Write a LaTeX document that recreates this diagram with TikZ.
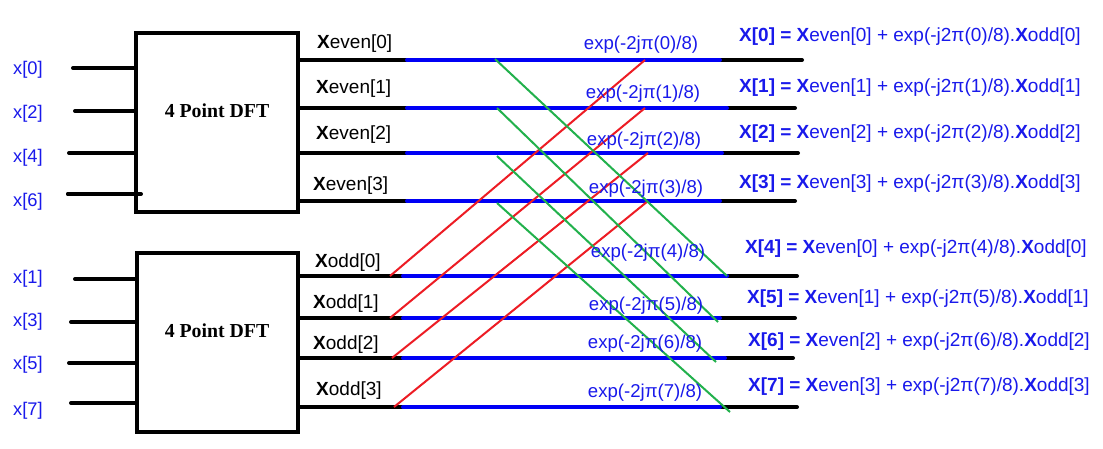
\documentclass[tikz,border=0pt]{standalone}
\usepackage{fontspec}
\setmainfont{Liberation Sans}
\newfontfamily\dftfont{Liberation Serif}
\definecolor{tblue}{RGB}{25,25,235}
\definecolor{lblue}{RGB}{0,0,245}
\definecolor{pred}{RGB}{237,28,36}
\definecolor{pgreen}{RGB}{34,177,76}
\begin{document}
\begin{tikzpicture}[x=1pt,y=-1pt,
  blk/.style={line width=4pt, black, line cap=round},
  bus/.style={line width=4pt, lblue, line cap=round},
  rline/.style={line width=2pt, pred},
  gline/.style={line width=2pt, pgreen},
  dftbox/.style={draw, line width=4pt, inner sep=0pt, minimum width=162pt, minimum height=179pt},
  dfttxt/.style={inner sep=0pt, font=\dftfont\bfseries\fontsize{19.8}{22}\selectfont},
  inlab/.style={anchor=west, inner sep=0pt, text=tblue, font=\fontsize{18.3}{20}\selectfont},
  outlab/.style={anchor=west, inner sep=0pt, text=black, font=\fontsize{19}{21}\selectfont},
  wlab/.style={inner sep=0pt, text=tblue, font=\fontsize{18.6}{21}\selectfont},
  reslab/.style={anchor=west, inner sep=0pt, text=tblue, font=\fontsize{19}{21}\selectfont}]
\useasboundingbox[fill=white] (0,0) rectangle (1103,448);

% boxes
\node[dftbox] (top) at (217,122.5) {};
\node[dftbox, minimum width=161pt] (bot) at (217.5,342.5) {};
\node[dfttxt] (toptxt) at (217,111) {4 Point DFT};
\node[dfttxt] (bottxt) at (217,331) {4 Point DFT};

% input labels
\node[inlab] (x0) at (13,70) {x[0]};
\node[inlab] (x2) at (13,114) {x[2]};
\node[inlab] (x4) at (13,158) {x[4]};
\node[inlab] (x6) at (13,202) {x[6]};
\node[inlab] (x1) at (13,279) {x[1]};
\node[inlab] (x3) at (13,322) {x[3]};
\node[inlab] (x5) at (13,365) {x[5]};
\node[inlab] (x7) at (13,411) {x[7]};

% input lines
\coordinate (i0) at (73,68);
\coordinate (i2) at (75,111);
\coordinate (i4) at (69,153);
\coordinate (i6) at (68,194);
\coordinate (i1) at (75,279);
\coordinate (i3) at (71,322);
\coordinate (i5) at (69,363);
\coordinate (i7) at (71,403);
\foreach \k in {0,2,4,6} {\draw[blk] (i\k) -- (i\k -| top.west);}
\draw[blk] (i6) -- ++(73,0);
\foreach \k in {1,3,5,7} {\draw[blk] (i\k) -- (i\k -| bot.west);}

% output lines (even)
\foreach \k/\y/\xe/\xb in {0/60/802/720, 1/108/795/727, 2/153/798/722, 3/201/795/720} {
  \coordinate (ee\k) at (\xe,\y);
  \coordinate (eb\k) at (407,\y);
  \coordinate (ec\k) at (\xb,\y);
  \draw[blk] (ee\k -| top.east) -- (ee\k);
  \draw[bus] (eb\k) -- (ec\k);
}
% output lines (odd)
\foreach \k/\y/\xe/\xb in {0/276/797/727, 1/318/795/720, 2/358/793/725, 3/407/797/720} {
  \coordinate (oe\k) at (\xe,\y);
  \coordinate (ob\k) at (403,\y);
  \coordinate (oc\k) at (\xb,\y);
  \draw[blk] (oe\k -| bot.east) -- (oe\k);
  \draw[bus] (ob\k) -- (oc\k);
}

% red butterflies: odd k -> even k
\coordinate (rs0) at (390,276); \coordinate (rt0) at (645,60);
\coordinate (rs1) at (390,318); \coordinate (rt1) at (645,108);
\coordinate (rs2) at (392,358); \coordinate (rt2) at (648,153);
\coordinate (rs3) at (394,407); \coordinate (rt3) at (648,201);
\foreach \k in {0,...,3} {\draw[rline] (rs\k) -- (rt\k);}

% green butterflies: even k -> odd k
\coordinate (gs0) at (495,59);  \coordinate (gt0) at (727,276);
\coordinate (gs1) at (497,108); \coordinate (gt1) at (718,322);
\coordinate (gs2) at (497,156); \coordinate (gt2) at (716,362);
\coordinate (gs3) at (497,203); \coordinate (gt3) at (730,412);
\foreach \k in {0,...,3} {\draw[gline] (gs\k) -- (gt\k);}

% branch labels
\node[outlab] (le0) at (317,44) {\textbf{X}even[0]};
\node[outlab] (le1) at (316,89) {\textbf{X}even[1]};
\node[outlab] (le2) at (316,135) {\textbf{X}even[2]};
\node[outlab] (le3) at (313,186) {\textbf{X}even[3]};
\node[outlab] (lo0) at (315,263) {\textbf{X}odd[0]};
\node[outlab] (lo1) at (313,304) {\textbf{X}odd[1]};
\node[outlab] (lo2) at (313,345) {\textbf{X}odd[2]};
\node[outlab] (lo3) at (316,391) {\textbf{X}odd[3]};

% twiddle labels
\node[wlab] (w0) at (641,45) {exp(-2jπ(0)/8)};
\node[wlab] (w1) at (643,94) {exp(-2jπ(1)/8)};
\node[wlab] (w2) at (644,141) {exp(-2jπ(2)/8)};
\node[wlab] (w3) at (646,189) {exp(-2jπ(3)/8)};
\node[wlab] (w4) at (648,253) {exp(-2jπ(4)/8)};
\node[wlab] (w5) at (646,306) {exp(-2jπ(5)/8)};
\node[wlab] (w6) at (645,344) {exp(-2jπ(6)/8)};
\node[wlab] (w7) at (645,393) {exp(-2jπ(7)/8)};

% results
\node[reslab] (r0) at (739,37) {\textbf{X[0] = X}even[0] + exp(-j2π(0)/8).\textbf{X}odd[0]};
\node[reslab] (r1) at (739,88) {\textbf{X[1] = X}even[1] + exp(-j2π(1)/8).\textbf{X}odd[1]};
\node[reslab] (r2) at (739,134) {\textbf{X[2] = X}even[2] + exp(-j2π(2)/8).\textbf{X}odd[2]};
\node[reslab] (r3) at (739,184) {\textbf{X[3] = X}even[3] + exp(-j2π(3)/8).\textbf{X}odd[3]};
\node[reslab] (r4) at (745,249) {\textbf{X[4] = X}even[0] + exp(-j2π(4)/8).\textbf{X}odd[0]};
\node[reslab] (r5) at (747,299) {\textbf{X[5] = X}even[1] + exp(-j2π(5)/8).\textbf{X}odd[1]};
\node[reslab] (r6) at (748,342) {\textbf{X[6] = X}even[2] + exp(-j2π(6)/8).\textbf{X}odd[2]};
\node[reslab] (r7) at (748,387) {\textbf{X[7] = X}even[3] + exp(-j2π(7)/8).\textbf{X}odd[3]};
\end{tikzpicture}
\end{document}
